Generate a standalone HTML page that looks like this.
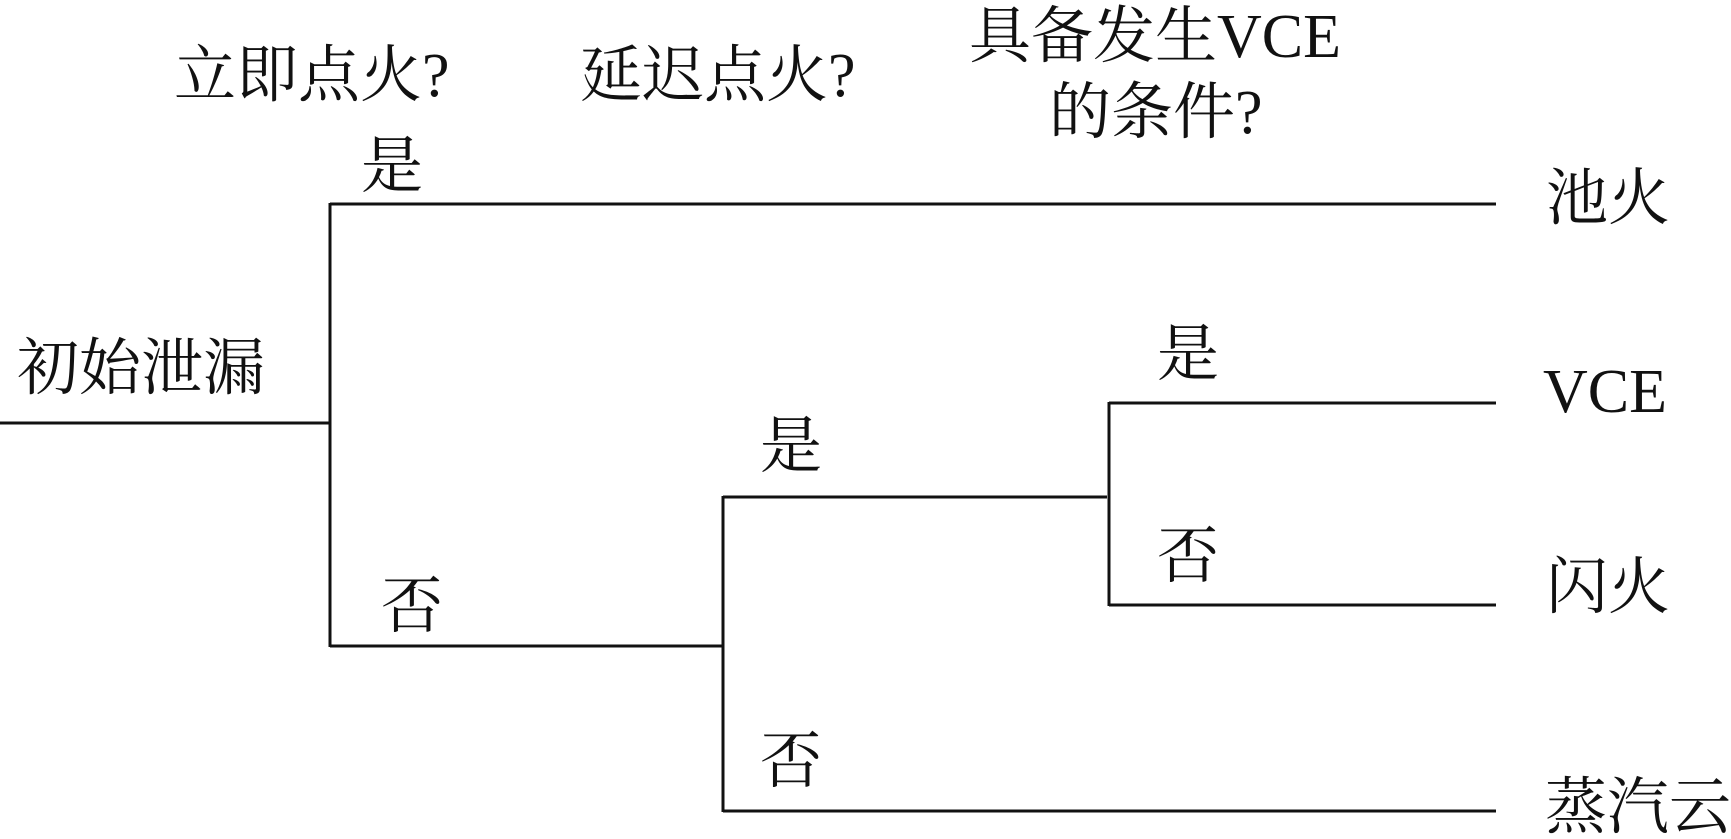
<!DOCTYPE html>
<html><head><meta charset="utf-8"><style>
html,body{margin:0;padding:0;background:#fff;}
#c{position:relative;width:1731px;height:839px;overflow:hidden;background:#fff;}
.t{position:absolute;font-family:"Liberation Serif","Noto Serif CJK SC",serif;font-size:62px;line-height:62px;color:#111;white-space:nowrap;}
</style></head><body><div id="c">
<svg width="1731" height="839" style="position:absolute;left:0;top:0" stroke="#111" stroke-width="3" fill="none">
<line x1="0" y1="423" x2="330" y2="423"/>
<line x1="330" y1="203" x2="330" y2="647"/>
<line x1="330" y1="204" x2="1496" y2="204"/>
<line x1="330" y1="646" x2="723" y2="646"/>
<line x1="723" y1="496" x2="723" y2="812"/>
<line x1="723" y1="497" x2="1107" y2="497"/>
<line x1="723" y1="811" x2="1496" y2="811"/>
<line x1="1109" y1="402" x2="1109" y2="606"/>
<line x1="1109" y1="403" x2="1496" y2="403"/>
<line x1="1109" y1="605" x2="1496" y2="605"/>
</svg>
<div class="t" style="left:174px;top:45px">立即点火?</div>
<div class="t" style="left:580px;top:45px">延迟点火?</div>
<div class="t" style="left:969px;top:6px">具备发生VCE</div>
<div class="t" style="left:1049px;top:82px">的条件?</div>
<div class="t" style="left:361px;top:136px">是</div>
<div class="t" style="left:17px;top:338px">初始泄漏</div>
<div class="t" style="left:1546px;top:168px">池火</div>
<div class="t" style="left:1157px;top:324px">是</div>
<div class="t" style="left:1543px;top:361px">VCE</div>
<div class="t" style="left:760px;top:416px">是</div>
<div class="t" style="left:1157px;top:526px">否</div>
<div class="t" style="left:1546px;top:557px">闪火</div>
<div class="t" style="left:381px;top:576px">否</div>
<div class="t" style="left:760px;top:731px">否</div>
<div class="t" style="left:1545px;top:777px">蒸汽云</div>
</div></body></html>
